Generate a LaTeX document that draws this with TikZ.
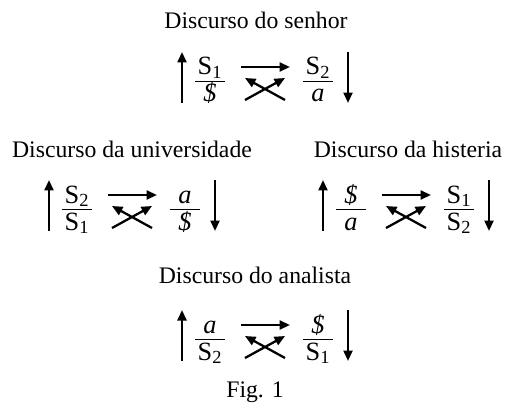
\documentclass[tikz,border=0pt]{standalone}
\usepackage{amsmath}
\usepackage{fontspec}
\setmainfont{Liberation Serif}
\usetikzlibrary{arrows.meta}
\newcommand{\barS}{\textit{\$}}
\newcommand{\Sone}{$\text{S}_{\text{1}}$}
\newcommand{\Stwo}{$\text{S}_{\text{2}}$}
\newcommand{\obj}{\textit{a}}
% one quadripode: name, x of left fraction, y of its bar, four places
\newcommand{\discurso}[7]{%
  \node[fbar] (#1-lbar) at (#2,#3) {\rule{0.6cm}{0.5pt}};
  \node[place] (#1-ln) at (#2,#3-6) {#4};
  \node[place] (#1-ld) at (#2,#3+21) {#5};
  \node[fbar] (#1-rbar) at (#2+108,#3) {\rule{0.6cm}{0.5pt}};
  \node[place] (#1-rn) at (#2+108,#3-6) {#6};
  \node[place] (#1-rd) at (#2+108,#3+21) {#7};
  \coordinate (#1-ua) at (#2-28,#3+22);
  \coordinate (#1-ub) at (#2-28,#3-29);
  \coordinate (#1-da) at (#2+138,#3-29);
  \coordinate (#1-db) at (#2+138,#3+22);
  \coordinate (#1-ha) at (#2+31,#3-14);
  \coordinate (#1-hb) at (#2+80,#3-14);
  \coordinate (#1-xa) at (#2+35,#3+19);
  \coordinate (#1-xb) at (#2+75,#3-3);
  \coordinate (#1-xc) at (#2+75,#3+19);
  \coordinate (#1-xd) at (#2+35,#3-3);
  \draw[flow] (#1-ua) -- (#1-ub);
  \draw[flow] (#1-da) -- (#1-db);
  \draw[flow] (#1-ha) -- (#1-hb);
  \draw[flow] (#1-xa) -- (#1-xb);
  \draw[flow] (#1-xc) -- (#1-xd);
}

\begin{document}
\begin{tikzpicture}[x=0.02cm, y=-0.02cm,
  title/.style={font=\fontsize{13.5}{16}\selectfont, anchor=base, inner sep=0pt},
  place/.style={font=\fontsize{15}{18}\selectfont, anchor=base, inner sep=0pt},
  fbar/.style={inner sep=0pt},
  flow/.style={-{Triangle[length=2.1mm,width=1.8mm]}, line width=1.3pt}]
  \useasboundingbox (0,0) rectangle (509,405);
  \node[title] (senhor) at (256,29) {Discurso do senhor};
  \discurso{ds}{210}{81}{\Sone}{\barS}{\Stwo}{\obj}
  \node[title] (univ) at (132,157) {Discurso da universidade};
  \discurso{du}{77}{209}{\Stwo}{\Sone}{\obj}{\barS}
  \node[title] (hist) at (408,157) {Discurso da histeria};
  \discurso{dh}{351}{209}{\barS}{\obj}{\Sone}{\Stwo}
  \node[title] (anal) at (255,283) {Discurso do analista};
  \discurso{da}{210}{339}{\obj}{\Stwo}{\barS}{\Sone}
  \node[title] (fig) at (255,397) {Fig. 1};
\end{tikzpicture}
\end{document}
